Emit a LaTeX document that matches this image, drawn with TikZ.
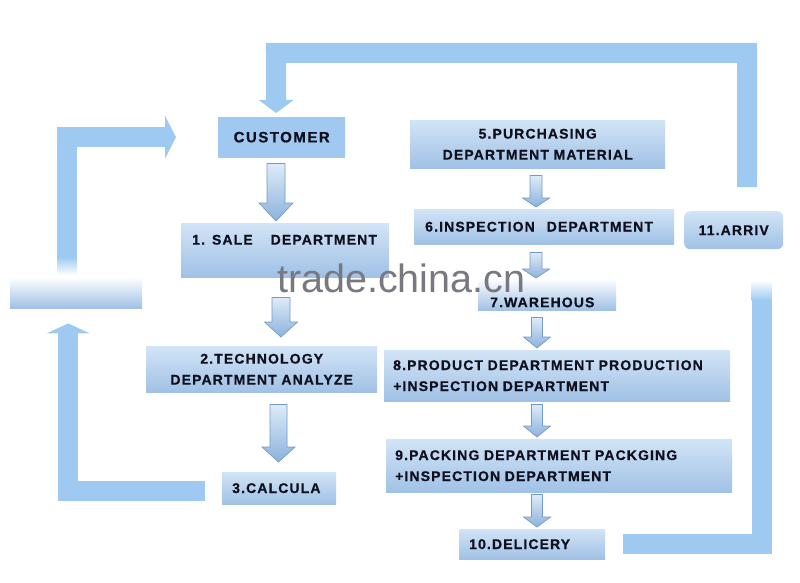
\documentclass[tikz,border=0pt]{standalone}
\usepackage{fontspec}
\setmainfont{Liberation Sans}
\newfontfamily\lbl{Liberation Sans Bold}[LetterSpace=8,FakeBold=0.6]
\newfontfamily\lblw{Liberation Sans Bold}[LetterSpace=10,FakeBold=0.6]
\newfontfamily\wmfont{Liberation Sans}
\usetikzlibrary{arrows.meta,calc}
\definecolor{conncol}{RGB}{158,202,242}
\definecolor{custcol}{RGB}{160,200,240}
\definecolor{boxtop}{RGB}{210,228,246}
\definecolor{boxbot}{RGB}{160,193,230}
\definecolor{arrtop}{RGB}{222,235,248}
\definecolor{arrbot}{RGB}{140,178,220}
\definecolor{arrdraw}{RGB}{115,155,200}
\definecolor{txtcol}{RGB}{15,15,30}
\definecolor{wmgray}{RGB}{120,120,128}
\tikzset{
  box/.style={rectangle, anchor=north west, inner ysep=0pt, top color=boxtop, bottom color=boxbot,
    font=\lbl\fontsize{14}{21}\selectfont, text=txtcol, align=left},
  bigconn/.style={draw=conncol, line width=20pt, line join=miter},
  sarrow/.style={top color=arrtop, bottom color=arrbot, draw=arrdraw, line width=0.7pt, line join=miter},
}
\newcommand\blkarrow[8]{%
  \path let \p1=(#2.south), \p2=(#3.north) in
  [sarrow] ({(#1-#6)*1pt},{\y1-#4pt}) -- ({(#1+#6)*1pt},{\y1-#4pt})
  -- ({(#1+#6)*1pt},{\y2+#5pt+#8pt}) -- ({(#1+#7)*1pt},{\y2+#5pt+#8pt})
  -- ({#1pt},{\y2+#5pt}) -- ({(#1-#7)*1pt},{\y2+#5pt+#8pt})
  -- ({(#1-#6)*1pt},{\y2+#5pt+#8pt}) -- cycle;}
\begin{document}
\begin{tikzpicture}[x=1pt,y=-1pt]
\useasboundingbox (0,0) rectangle (800,583);
\fill[white] (0,0) rectangle (800,583);

% boxes
\node[box, minimum width=127pt, minimum height=40pt, inner xsep=0pt, text width=127pt, align=center,
  top color=custcol, bottom color=custcol, font=\lblw\fontsize{15}{18}\selectfont] (cust) at (218,117) {CUSTOMER};
\node[box, minimum width=208pt, minimum height=54pt, inner xsep=11pt, text width=186pt] (sale) at (181,223)
  {1. SALE\hspace{18pt}DEPARTMENT\\ \mbox{}};
\node[box, minimum width=231pt, minimum height=46pt, inner xsep=0pt, text width=231pt, align=center] (tech) at (146,346)
  {2.TECHNOLOGY\\DEPARTMENT ANALYZE};
\node[box, minimum width=114pt, minimum height=32pt, inner xsep=10pt, text width=94pt] (calc) at (222,472) {3.CALCULA};
\node[box, minimum width=255pt, minimum height=48pt, inner xsep=0pt, text width=255pt, align=center] (purch) at (410,120)
  {5.PURCHASING\\DEPARTMENT MATERIAL};
\node[box, minimum width=260pt, minimum height=35pt, inner xsep=11pt, text width=238pt] (insp) at (414,209)
  {6.INSPECTION\hspace{12pt}DEPARTMENT};
\node[box, minimum width=99pt, minimum height=38pt, inner xsep=0pt, text width=99pt, align=center, rounded corners=6pt] (arriv) at (684,211) {11.ARRIV};
\node[box, minimum width=132pt, minimum height=31pt, top color=white, bottom color=boxbot] (inq) at (10,277) {};
\node[box, minimum width=138pt, minimum height=32pt, inner xsep=12pt, text width=114pt, top color=white, bottom color=boxbot] (ware) at (478,278)
  {\raisebox{-13pt}[0pt][0pt]{7.WAREHOUS}};
\node[box, minimum width=346pt, minimum height=51pt, inner xsep=9pt, text width=328pt] (prod) at (384,350)
  {8.PRODUCT DEPARTMENT PRODUCTION\\+INSPECTION DEPARTMENT};
\node[box, minimum width=346pt, minimum height=53pt, inner xsep=9pt, text width=328pt] (pack) at (386,439)
  {9.PACKING DEPARTMENT PACKGING\\+INSPECTION DEPARTMENT};
\node[box, minimum width=146pt, minimum height=30pt, inner xsep=10pt, text width=126pt] (deli) at (459,529) {10.DELICERY};

% big connectors
\coordinate (c1s) at (747,187);
\draw[bigconn, -{Triangle[width=35pt,length=13pt,line width=0pt]}] (c1s) |- (276,53) -- ([xshift=-5.5pt,yshift=4pt]cust.north);
\coordinate (c2s) at (67,257);
\draw[bigconn, -{Triangle[width=43pt,length=11pt,line width=0pt]}] (c2s) |- ([xshift=-42pt]cust.west);
\shade[top color=conncol, bottom color=white] (57,257) rectangle (77,275);
\draw[bigconn, -{Triangle[width=43pt,length=10pt,line width=0pt]}] ([xshift=-17pt,yshift=-2.5pt]calc.west) -| ([xshift=-8pt,yshift=-15pt]inq.south);
\draw[bigconn] ([xshift=18pt]deli.east) -| (761.5,300);
\shade[top color=white, bottom color=conncol] (751.5,280) rectangle (771.5,300);

% small arrows
\blkarrow{276}{cust}{sale}{6}{2}{9}{17}{18}
\blkarrow{281}{sale}{tech}{20}{9}{9}{16.5}{15}
\blkarrow{278.5}{tech}{calc}{12}{10}{8.5}{16.5}{15}
\blkarrow{536}{purch}{insp}{7}{2}{6}{13.5}{9}
\blkarrow{536}{insp}{ware}{8}{0}{6}{13.5}{9}
\blkarrow{537}{ware}{prod}{7}{2}{5.5}{13.5}{11}
\blkarrow{537}{prod}{pack}{3}{2}{5.5}{13.5}{11}
\blkarrow{537}{pack}{deli}{2}{2}{5.5}{13.5}{10}

% watermark
\node[font=\wmfont\fontsize{39.5}{39.5}\selectfont, text=wmgray, anchor=base west, inner sep=0pt] (wm) at (277,292) {trade.china.cn};
\end{tikzpicture}
\end{document}
